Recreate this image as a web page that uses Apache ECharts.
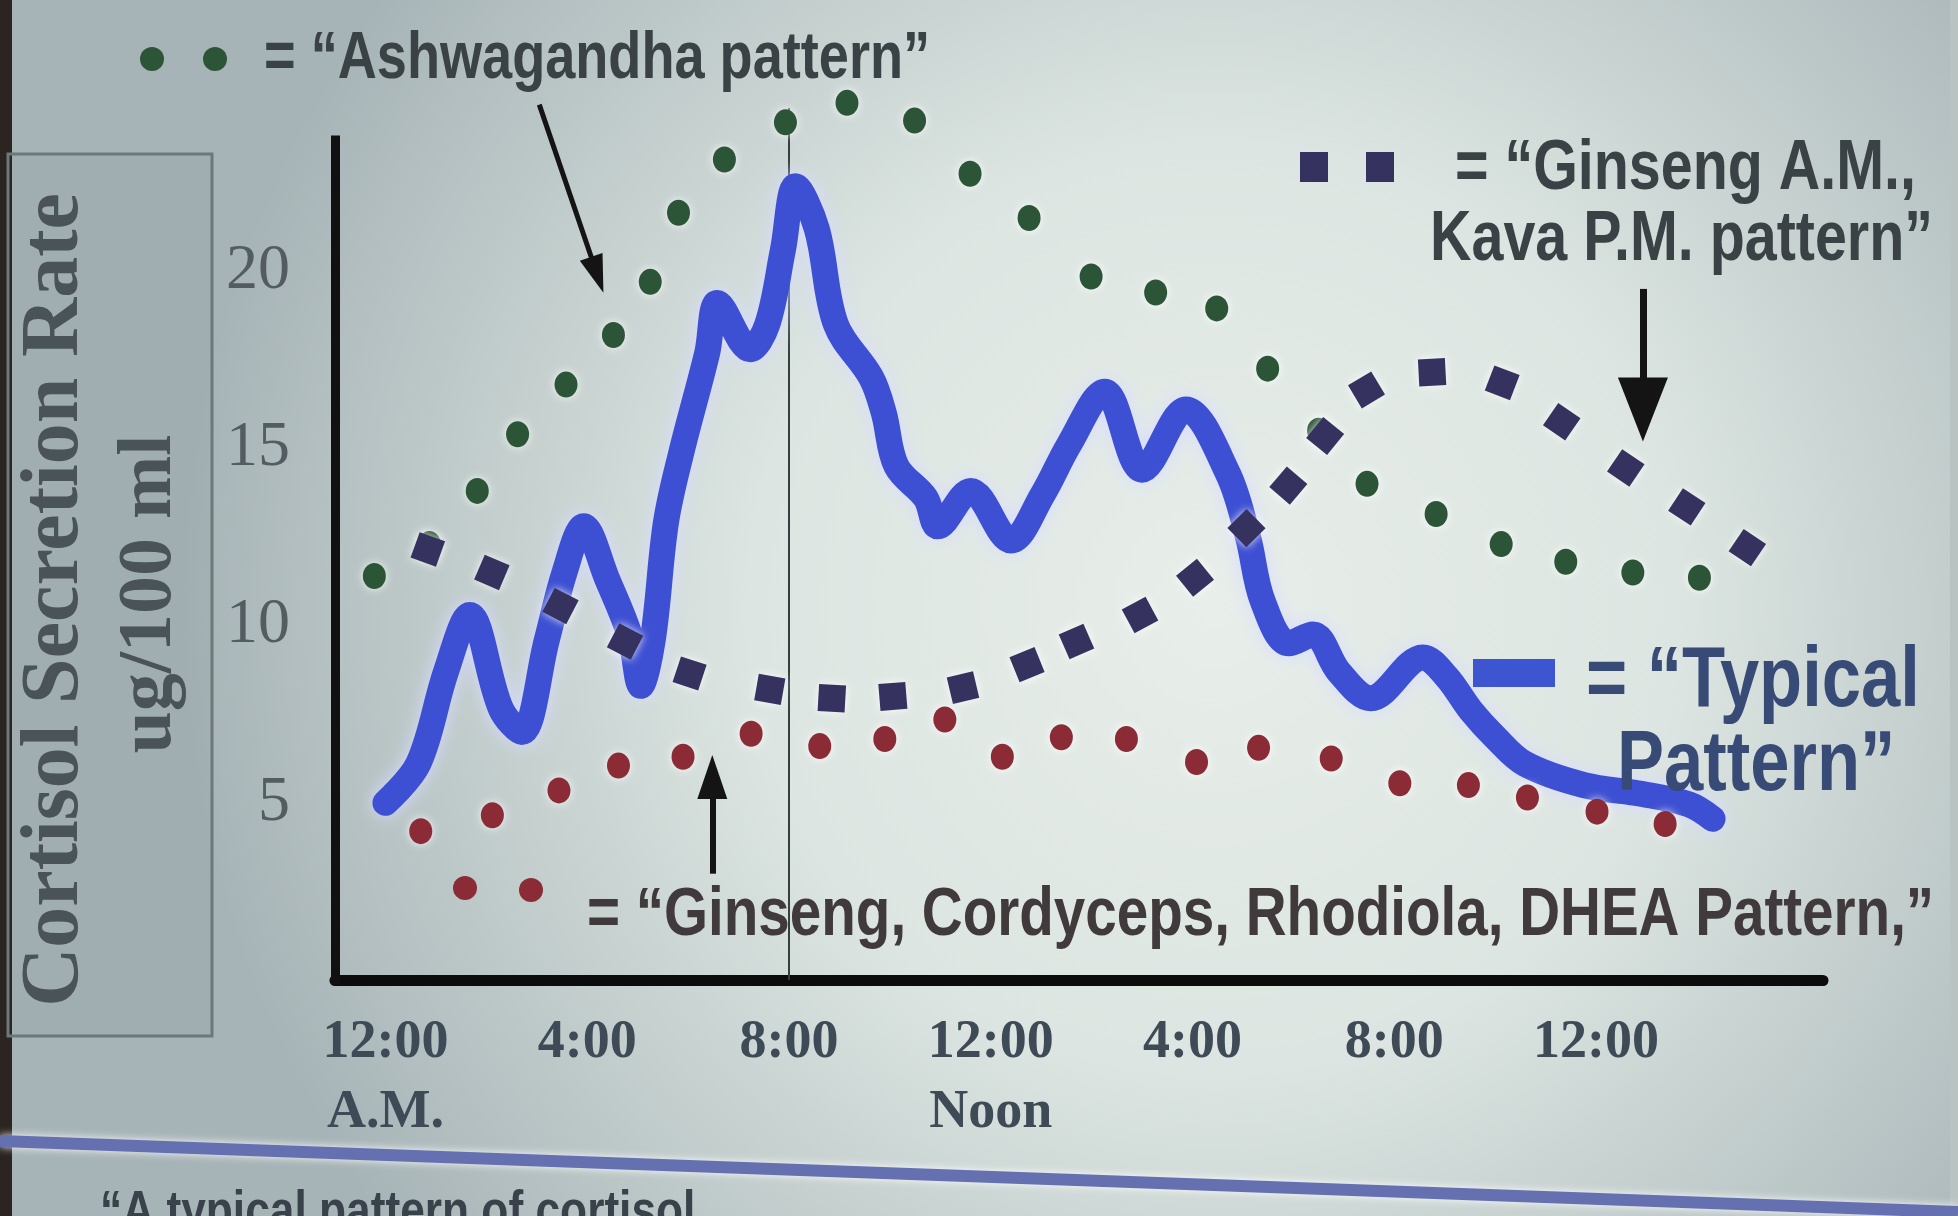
<!DOCTYPE html>
<html><head><meta charset="utf-8">
<script src="https://cdn.jsdelivr.net/npm/echarts@6/dist/echarts.min.js"></script>
<style>html,body{margin:0;padding:0;background:#d6dfdd;overflow:hidden}#c{width:1958px;height:1216px;}</style>
</head><body><div id="c"></div>
<script>
// ---------- data (hours after midnight, cortisol ug/100 ml) ----------
const hourTicks = [0, 4, 8, 12, 16, 20, 24];
const hourTickLabels = ['12:00\nA.M.', '4:00', '8:00', '12:00\nNoon', '4:00', '8:00', '12:00'];
const valueTicks = [5, 10, 15, 20];

const typicalHours  = [0, 0.65, 1.2, 1.67, 2.29, 2.7, 3.2, 3.55, 3.93, 4.4, 4.85, 5.06, 5.3, 5.56, 5.86, 6.38, 6.58, 7.23, 7.57, 7.88, 8.13, 8.55, 8.93, 9.63, 9.88, 10.13, 10.71, 10.95, 11.6, 12.4, 13.03, 13.55, 14.26, 15.0, 15.87, 16.7, 17.1, 17.39, 17.91, 18.39, 18.9, 19.53, 20.57, 21.04, 21.52, 22.0, 22.59, 23.76, 24.92, 25.85, 26.31];
const typicalValues = [5.0, 6.1, 8.7, 10.3, 7.65, 7.0, 9.6, 11.5, 12.8, 11.3, 9.7, 8.3, 9.6, 12.9, 14.85, 17.7, 19.1, 17.8, 18.5, 20.6, 22.4, 21.2, 18.5, 17.0, 16.0, 14.5, 13.6, 12.8, 13.8, 12.4, 13.7, 15.1, 16.6, 14.4, 16.1, 14.3, 12.5, 10.7, 9.5, 9.75, 8.7, 7.95, 9.1, 8.55, 7.6, 6.85, 6.1, 5.5, 5.25, 4.95, 4.55];

const ashwaHours  = [-0.22, 0.87, 1.82, 2.62, 3.58, 4.52, 5.25, 5.81, 6.72, 7.93, 9.15, 10.49, 11.59, 12.76, 13.99, 15.27, 16.48, 17.49, 18.5, 19.46, 20.83, 22.12, 23.4, 24.73, 26.05];
const ashwaValues = [11.4, 12.3, 13.8, 15.4, 16.8, 18.2, 19.7, 21.65, 23.15, 24.2, 24.75, 24.25, 22.75, 21.5, 19.85, 19.4, 18.95, 17.25, 15.5, 14.0, 13.15, 12.3, 11.8, 11.5, 11.35];

const kavaHours  = [0.84, 2.11, 3.47, 4.75, 6.03, 7.62, 8.85, 10.06, 11.45, 12.72, 13.7, 14.96, 16.05, 17.07, 17.9, 18.63, 19.45, 20.75, 22.14, 23.32, 24.59, 25.8, 27.0];
const kavaValues = [12.15, 11.5, 10.55, 9.55, 8.65, 8.2, 7.95, 8.0, 8.25, 8.9, 9.55, 10.3, 11.35, 12.75, 13.95, 15.35, 16.65, 17.15, 16.85, 15.75, 14.45, 13.35, 12.2];

const ginsengHours  = [0.7, 2.12, 3.44, 4.62, 5.9, 7.25, 8.61, 9.9, 11.09, 12.23, 13.4, 14.69, 16.08, 17.31, 18.75, 20.11, 21.47, 22.64, 24.02, 25.37];
const ginsengValues = [4.2, 4.65, 5.35, 6.05, 6.3, 6.95, 6.6, 6.8, 7.35, 6.3, 6.85, 6.8, 6.15, 6.55, 6.25, 5.55, 5.5, 5.15, 4.75, 4.4];

// annotation geometry in data units
const axisTopValue = 23.7;
const gridLineStartHour = -1.2;
const gridLineEndHour = 26.2;
const markerHour = 8, markerTop = 24.6;
const ashwaArrow = [[3.05, 24.7], [4.2, 19.9]];
const kavaArrow = [[24.93, 19.5], [24.93, 16.1]];
const ginsengArrow = [[6.48, 3.0], [6.48, 5.73]];

// ---------- chart ----------
const chart = echarts.init(document.getElementById('c'), null, {renderer: 'canvas'});
const GRID = {left: 335, right: 135, top: 94, bottom: 236};
const pxPerHour = (1958 - GRID.left - GRID.right) / 29.5;
const pxPerUnit = (1216 - GRID.top - GRID.bottom) / 25;
function pairs(xs, ys) { return xs.map((x, i) => [x, ys[i]]); }
function tangentRot(xs, ys) {
  return xs.map((x, i) => {
    const a = Math.max(0, i - 1), b = Math.min(xs.length - 1, i + 1);
    return Math.atan2((ys[b] - ys[a]) * pxPerUnit, (xs[b] - xs[a]) * pxPerHour) * 180 / Math.PI;
  });
}
const kavaRot = tangentRot(kavaHours, kavaValues);

const sans = "'Liberation Sans', Arial, sans-serif";
const serif = "'Liberation Serif', 'DejaVu Serif', serif";
const txtCol = '#3a4246';
const NARROW = 0.82;

const markLines = [];
markLines.push([
  {coord: [-1, 0], symbol: 'none', lineStyle: {color: '#111', width: 9, type: 'solid', cap: 'square'}},
  {coord: [-1, axisTopValue], symbol: 'none'}
]);
valueTicks.forEach(v => markLines.push([
  {coord: [gridLineStartHour, v], symbol: 'none', lineStyle: {color: '#4c5758', width: 3.5, type: 'solid'}},
  {coord: [gridLineEndHour, v], symbol: 'none'}
]));
markLines.push([
  {coord: [markerHour, 0], symbol: 'none', lineStyle: {color: '#34403f', width: 2, type: 'solid'}},
  {coord: [markerHour, markerTop], symbol: 'none'}
]);
function arrow(a, size, w) {
  return [
    {coord: a[0], symbol: 'none', lineStyle: {color: '#141414', width: w, type: 'solid'}},
    {coord: a[1], symbol: 'triangle', symbolSize: size}
  ];
}
markLines.push(arrow(ashwaArrow, [24, 38], 5));
markLines.push(arrow(kavaArrow, [50, 64], 7));
markLines.push(arrow(ginsengArrow, [30, 44], 6));

function label(x, y, text, size, color, extra) {
  return Object.assign({type: 'text', z: 10, x: x, y: y, scaleX: NARROW,
    style: {text: text, font: 'bold ' + size + 'px ' + sans, fill: color, verticalAlign: 'middle'}}, extra || {});
}

const dotStyle = c => ({color: c, opacity: 1, shadowBlur: 8, shadowColor: 'rgba(255,255,255,0.85)'});

const option = {
  backgroundColor: '#d6dfdd',
  animation: false,
  grid: GRID,
  xAxis: {
    type: 'value', min: -1, max: 28.5,
    axisLine: {show: true, onZero: false, lineStyle: {color: '#0c0c0c', width: 11}},
    axisTick: {show: false},
    splitLine: {show: false},
    axisLabel: {
      customValues: hourTicks,
      formatter: v => { const i = hourTicks.indexOf(v); return i >= 0 ? hourTickLabels[i] : ''; },
      fontFamily: serif, fontWeight: 'bold', fontSize: 54, color: '#3f4a57',
      lineHeight: 70, margin: 28, verticalAlign: 'top'
    }
  },
  yAxis: {
    type: 'value', min: 0, max: 25,
    axisLine: {show: false, onZero: false},
    axisTick: {show: false},
    splitLine: {show: false},
    axisLabel: {
      customValues: valueTicks,
      fontFamily: serif, fontSize: 64, color: '#535c60', margin: 45
    }
  },
  series: [
    {
      name: 'Typical Pattern', type: 'line', data: pairs(typicalHours, typicalValues),
      smooth: 0.35, showSymbol: false, clip: false, z: 3,
      lineStyle: {color: '#3d4fd2', width: 26, cap: 'round', join: 'round',
        shadowBlur: 18, shadowColor: 'rgba(215,220,255,1)'},
      markLine: {silent: true, animation: false, label: {show: false}, symbol: 'none', data: markLines, z: 2}
    },
    {
      name: 'Ashwagandha pattern', type: 'scatter', data: pairs(ashwaHours, ashwaValues),
      symbol: 'circle', symbolSize: [23, 26], clip: false, z: 4,
      itemStyle: dotStyle('#2b5536')
    },
    {
      name: 'Ginseng A.M., Kava P.M. pattern', type: 'scatter',
      data: kavaHours.map((h, i) => ({value: [h, kavaValues[i]], symbolRotate: kavaRot[i]})),
      symbol: 'rect', symbolSize: 27, clip: false, z: 5,
      itemStyle: dotStyle('#36325f')
    },
    {
      name: 'Ginseng, Cordyceps, Rhodiola, DHEA Pattern', type: 'scatter', data: pairs(ginsengHours, ginsengValues),
      symbol: 'circle', symbolSize: [23, 26], clip: false, z: 6,
      itemStyle: dotStyle('#8a2b36')
    }
  ],
  graphic: [
    {type: 'rect', z: -10, silent: true, shape: {x: 0, y: 0, width: 1958, height: 1216},
      style: {fill: {type: 'radial', x: 0.62, y: 0.5, r: 0.85, colorStops: [
        {offset: 0, color: '#e8eeea'}, {offset: 0.45, color: '#dce5e1'}, {offset: 1, color: '#a7b4b7'}]}}},
    {type: 'rect', z: -5, silent: true, shape: {x: 0, y: 0, width: 12, height: 1216}, style: {fill: '#2b2420'}},
    {type: 'rect', z: -5, silent: true, shape: {x: 1950, y: 0, width: 8, height: 1216}, style: {fill: '#b9c3c2'}},
    // y-axis title box
    {type: 'rect', z: 1, silent: true, shape: {x: 8, y: 154, width: 204, height: 882},
      style: {fill: 'rgba(60,70,75,0.05)', stroke: '#6c787a', lineWidth: 3}},
    {type: 'text', z: 10, x: 56, y: 600, rotation: Math.PI / 2,
      style: {text: 'Cortisol Secretion Rate', font: "bold 82px " + serif, fill: '#4a5357', align: 'center', verticalAlign: 'middle'}},
    {type: 'text', z: 10, x: 150, y: 594, rotation: Math.PI / 2,
      style: {text: 'ug/100 ml', font: "bold 76px " + serif, fill: '#4a5357', align: 'center', verticalAlign: 'middle'}},
    // legend: Ashwagandha
    {type: 'circle', z: 10, shape: {cx: 152, cy: 59, r: 12}, style: {fill: '#2b5536'}},
    {type: 'circle', z: 10, shape: {cx: 215, cy: 59, r: 12}, style: {fill: '#2b5536'}},
    label(264, 60, '= \u201cAshwagandha pattern\u201d', 66, txtCol),
    // legend: Ginseng AM / Kava PM
    {type: 'rect', z: 10, shape: {x: 1300, y: 152, width: 28, height: 30}, style: {fill: '#36325f'}},
    {type: 'rect', z: 10, shape: {x: 1366, y: 152, width: 28, height: 30}, style: {fill: '#36325f'}},
    label(1455, 170, '= \u201cGinseng A.M.,', 70, txtCol),
    label(1430, 241, 'Kava P.M. pattern\u201d', 70, txtCol),
    // legend: Typical
    {type: 'rect', z: 10, shape: {x: 1473, y: 659, width: 82, height: 28}, style: {fill: '#3d55d0'}},
    label(1586, 682, '= \u201cTypical', 86, '#374b76'),
    label(1617, 766, 'Pattern\u201d', 86, '#374b76'),
    // legend: Ginseng, Cordyceps ...
    {type: 'circle', z: 10, shape: {cx: 465, cy: 888, r: 12}, style: {fill: '#8a2b36'}},
    {type: 'circle', z: 10, shape: {cx: 531, cy: 890, r: 12}, style: {fill: '#8a2b36'}},
    label(587, 916, '= \u201cGinseng, Cordyceps, Rhodiola, DHEA Pattern,\u201d', 69, '#403a3d'),
    // slide footer
    {type: 'line', z: 1, silent: true, shape: {x1: 0, y1: 1141, x2: 1958, y2: 1212},
      style: {stroke: '#6470b0', lineWidth: 12, shadowBlur: 8, shadowColor: 'rgba(255,255,255,0.9)'}},
    {type: 'text', z: 1, x: 100, y: 1186, scaleX: NARROW,
      style: {text: '\u201cA typical pattern of cortisol', font: "bold 54px " + sans, fill: '#39424a', verticalAlign: 'top'}}
  ]
};
chart.setOption(option);
</script>
</body></html>
